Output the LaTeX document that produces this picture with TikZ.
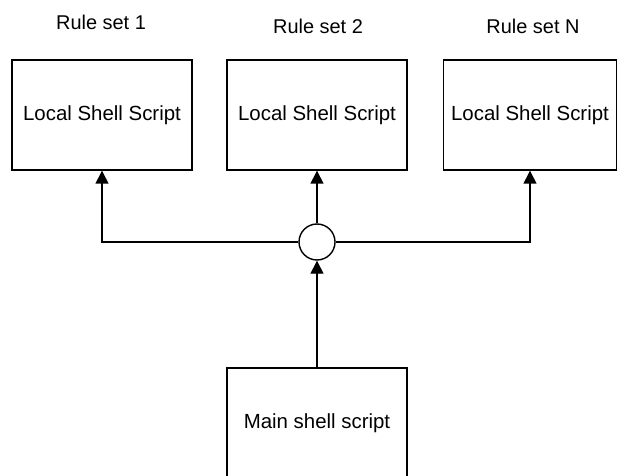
\documentclass[tikz,border=0pt]{standalone}
\usepackage{fontspec}
\setmainfont{Liberation Sans}
\usetikzlibrary{arrows.meta, positioning}
\tikzset{
  script/.style={rectangle, draw, line width=1.4bp, minimum width=180bp, minimum height=110bp, inner sep=0pt, font=\fontsize{20.5}{24}\selectfont},
  ruleset/.style={font=\fontsize{20}{24}\selectfont},
  hub/.style={circle, draw, fill=white, line width=1.4bp, minimum size=36bp, inner sep=0pt},
  arrow/.style={-{Triangle[length=13bp, width=13bp]}, line width=1.4bp},
}

\begin{document}
\begin{tikzpicture}[x=1bp, y=-1bp]
  \useasboundingbox (0,0) rectangle (617,476);

  % rule sets
  \node (rs1) [ruleset] at (101,22) {Rule set 1};
  \node (rs2) [ruleset] at (318,26) {Rule set 2};
  \node (rsn) [ruleset] at (533,26) {Rule set N};

  \node (loc1) [script] at (102,115) {Local Shell Script};
  \node (loc2) [script] at (317,115) {Local Shell Script};
  \node (locn) [script, minimum width=173bp] at (530,115) {Local Shell Script};

  \node (hub) [hub] at (317,242) {};
  \node (main) [script] at (317,423) {Main shell script};

  \draw [arrow] (hub) -- (loc2);
  \draw [arrow] (hub) -| (loc1);
  \draw [arrow] (hub) -| (locn);
  \draw [arrow] (main) -- (hub);

\end{tikzpicture}
\end{document}
